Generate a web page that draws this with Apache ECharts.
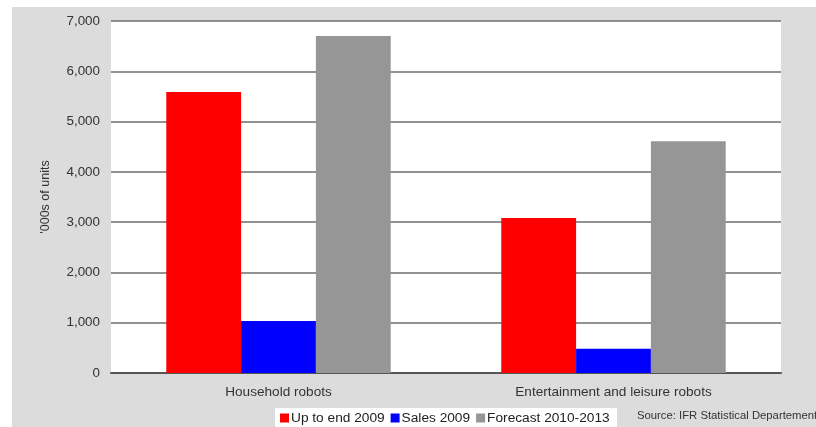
<!DOCTYPE html>
<html><head><meta charset="utf-8">
<script src="https://cdn.jsdelivr.net/npm/echarts@6/dist/echarts.min.js"></script>
<style>html,body{margin:0;padding:0;background:#fff}#c{width:816px;height:427px}</style>
</head><body><div id="c"></div>
<script>
var categories = ['Household robots', 'Entertainment and leisure robots'];
var seriesNames = ['Up to end 2009', 'Sales 2009', 'Forecast 2010-2013'];
var upToEnd2009 = [5590, 3080];
var sales2009 = [1035, 480];
var forecast20102013 = [6700, 4610];
var yTicks = [0, 1000, 2000, 3000, 4000, 5000, 6000, 7000];
var colors = ['#ff0000', '#0000ff', '#969696'];
var values = [upToEnd2009, sales2009, forecast20102013];

var chart = echarts.init(document.getElementById('c'), null, {renderer: 'canvas'});
var font = 'Liberation Sans, Arial, sans-serif';
chart.setOption({
  backgroundColor: '#ffffff',
  animation: false,
  graphic: [
    {type: 'rect', z: -10, shape: {x: 12, y: 7, width: 804, height: 420}, style: {fill: '#dcdcdc'}},
    {type: 'rect', z: -5, shape: {x: 275, y: 408, width: 342, height: 19}, style: {fill: '#ffffff'}},
    {type: 'text', left: 637, top: 410, style: {text: 'Source: IFR Statistical Departement', font: '11.3px ' + font, fill: '#333'}}
  ],
  grid: {left: 111, right: 35, top: 21, bottom: 54, show: true, backgroundColor: '#ffffff', borderWidth: 0,
    containLabel: false, outerBoundsMode: 'none'},
  legend: {
    left: 280, top: 411, itemWidth: 9, itemHeight: 9, itemGap: 6, padding: 0,
    icon: 'rect',
    textStyle: {fontFamily: font, fontSize: 13.7, color: '#222', padding: [0, 0, 0, -3]},
    data: seriesNames
  },
  xAxis: {
    type: 'category', data: categories,
    axisLine: {show: true, lineStyle: {color: '#555', width: 2}},
    axisTick: {show: false},
    axisLabel: {fontFamily: font, fontSize: 13.6, color: '#333', margin: 12}
  },
  yAxis: {
    type: 'value', min: yTicks[0], max: yTicks[yTicks.length - 1], interval: 1000,
    name: "'000s of units", nameLocation: 'middle', nameGap: 59, nameRotate: 90,
    nameTextStyle: {fontFamily: font, fontSize: 12.5, color: '#333'},
    axisLine: {show: false}, axisTick: {show: false},
    axisLabel: {fontFamily: font, fontSize: 13.4, color: '#333', margin: 11,
      formatter: function (v) { return v.toLocaleString('en-US'); }},
    splitLine: {show: true, lineStyle: {color: '#6e6e6e', width: 1.6}}
  },
  series: seriesNames.map(function (n, i) {
    return {name: n, type: 'bar', data: values[i], barGap: '0%', barCategoryGap: '33%',
      itemStyle: {color: colors[i]}};
  })
});
</script></body></html>
